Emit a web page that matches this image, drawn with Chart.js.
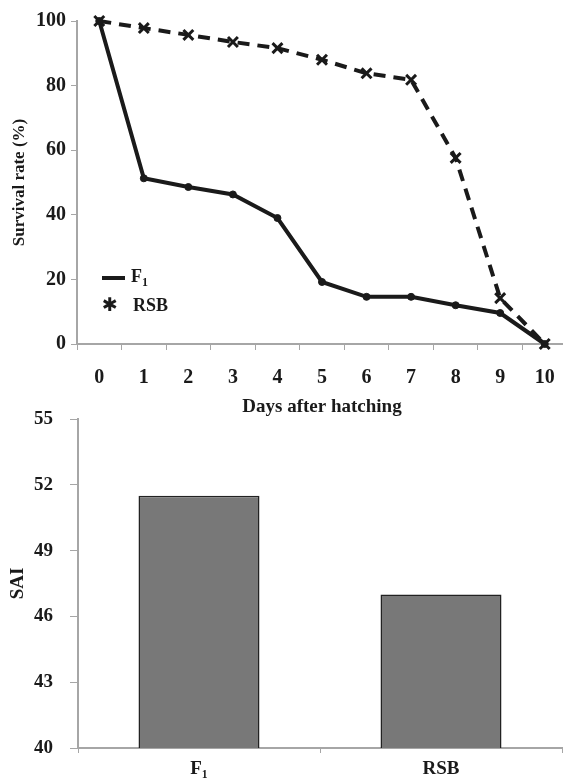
<!DOCTYPE html>
<html>
<head>
<meta charset="utf-8">
<script src="https://cdn.jsdelivr.net/npm/chart.js@4/dist/chart.umd.min.js"></script>
<style>
  html, body { margin: 0; padding: 0; background: #fff; overflow: hidden; }
  body { width: 563px; height: 778px; position: relative; }
  #top { position: absolute; left: 0; top: 0; }
  #bottom { position: absolute; left: 0; top: 400px; }
  .legend { position: absolute; left: 0; top: 0; font-family: "Liberation Serif", serif; font-weight: bold; font-size: 18px; color: #1a1a1a; line-height: 20px; }
  .legend .row { position: absolute; white-space: nowrap; }
  .legend .line { display: inline-block; width: 23px; height: 0; border-top: 4px solid #1a1a1a; vertical-align: middle; margin-right: 6px; }
  .legend .star { display: inline-block; width: 16px; font-family: "DejaVu Sans", sans-serif; font-size: 19px; margin-right: 15px; text-align: center; }
  .legend sub { font-size: 12px; vertical-align: -4px; }
</style>
</head>
<body>
<canvas id="top" width="570" height="420"></canvas>
<canvas id="bottom" width="563" height="378"></canvas>
<div class="legend">
  <div class="row" style="left:102px; top:266px;"><span class="line"></span>F<sub>1</sub></div>
  <div class="row" style="left:102px; top:294px;"><span class="star">✱</span>RSB</div>
</div>
<script>
// ---- Data ----
const days = ['0', '1', '2', '3', '4', '5', '6', '7', '8', '9', '10'];
const f1Survival = [100, 51.3, 48.6, 46.3, 39.0, 19.2, 14.6, 14.6, 12.0, 9.6, 0];
const rsbSurvival = [100, 97.8, 95.7, 93.5, 91.6, 88.0, 83.8, 81.8, 57.6, 14.2, 0];
const survivalTicks = [0, 20, 40, 60, 80, 100];

const groups = ['F₁', 'RSB'];
const saiValues = [51.5, 47.0];
const saiTicks = [40, 43, 46, 49, 52, 55];

// ---- Styles ----
const INK = '#1a1a1a';
const AXIS = '#a6a6a6';
const serifBold = (size) => ({ family: '"Liberation Serif", "Times New Roman", serif', size: size, weight: 'bold' });

// ---- Top: survival line chart ----
new Chart(document.getElementById('top'), {
  type: 'line',
  data: {
    labels: days,
    datasets: [
      {
        label: 'F1',
        data: f1Survival,
        borderColor: INK,
        backgroundColor: INK,
        borderWidth: 4,
        pointStyle: 'circle',
        pointRadius: 3.5,
        pointBorderWidth: 1,
        tension: 0,
        clip: false
      },
      {
        label: 'RSB',
        data: rsbSurvival,
        borderColor: INK,
        backgroundColor: INK,
        borderWidth: 4,
        borderDash: [12, 8],
        pointStyle: 'crossRot',
        pointRadius: 7,
        pointBorderWidth: 3,
        tension: 0,
        clip: false
      }
    ]
  },
  options: {
    responsive: false,
    animation: false,
    layout: { autoPadding: false, padding: { top: 21, right: 3, left: 0, bottom: 0 } },
    plugins: { legend: { display: false }, tooltip: { enabled: false } },
    scales: {
      x: {
        type: 'category',
        offset: true,
        afterFit: (s) => { s.height = 76; s.paddingLeft = 0; s.paddingRight = 0; },
        grid: { drawOnChartArea: false, drawTicks: true, tickLength: 6, color: AXIS, offset: true },
        border: { display: true, color: AXIS, width: 2 },
        ticks: { color: INK, font: serifBold(20), padding: 16, maxRotation: 0 },
        title: { display: true, text: 'Days after hatching', color: INK, font: serifBold(19), padding: { top: 0, bottom: 2 } }
      },
      y: {
        min: 0,
        max: 100,
        afterFit: (s) => { s.width = 77; s.paddingTop = 0; s.paddingBottom = 0; },
        afterBuildTicks: (s) => { s.ticks = survivalTicks.map(v => ({ value: v })); },
        grid: { drawOnChartArea: false, drawTicks: true, tickLength: 6, color: AXIS },
        border: { display: true, color: AXIS, width: 2 },
        ticks: { color: INK, font: serifBold(20), padding: 5 },
        title: { display: true, text: 'Survival rate (%)', color: INK, font: serifBold(17), padding: { top: 9, bottom: 0 } }
      }
    }
  }
});

// ---- Bottom: SAI bar chart ----
new Chart(document.getElementById('bottom'), {
  type: 'bar',
  data: {
    labels: groups,
    datasets: [{
      label: 'SAI',
      data: saiValues,
      backgroundColor: '#787878',
      borderColor: '#222',
      borderWidth: 1.5,
      barPercentage: 0.5,
      categoryPercentage: 1.0
    }]
  },
  options: {
    responsive: false,
    animation: false,
    layout: { autoPadding: false, padding: { top: 19, right: 1, left: 0, bottom: 0 } },
    plugins: { legend: { display: false }, tooltip: { enabled: false } },
    scales: {
      x: {
        afterFit: (s) => { s.height = 30; s.paddingLeft = 0; s.paddingRight = 0; },
        grid: { drawOnChartArea: false, drawTicks: true, tickLength: 5, color: AXIS, offset: true },
        border: { display: true, color: AXIS, width: 2 },
        ticks: { color: INK, font: serifBold(19), padding: 5, maxRotation: 0 }
      },
      y: {
        min: 40,
        max: 55,
        afterFit: (s) => { s.width = 78; s.paddingTop = 0; s.paddingBottom = 0; },
        afterBuildTicks: (s) => { s.ticks = saiTicks.map(v => ({ value: v })); },
        grid: { drawOnChartArea: false, drawTicks: true, tickLength: 8, color: AXIS },
        border: { display: true, color: AXIS, width: 2 },
        ticks: { color: INK, font: serifBold(19), padding: 17 },
        title: { display: true, text: 'SAI', color: INK, font: serifBold(19), padding: { top: 7, bottom: 0 } }
      }
    }
  }
});
</script>
</body>
</html>
